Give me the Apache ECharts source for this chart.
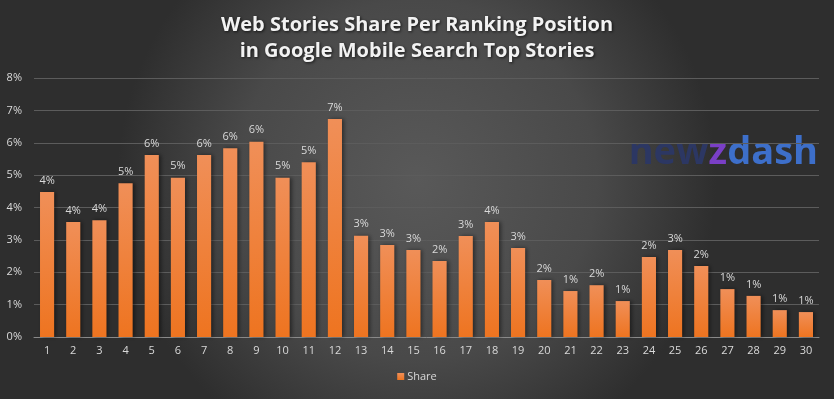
<!DOCTYPE html>
<html>
<head>
<meta charset="utf-8">
<script src="https://cdn.jsdelivr.net/npm/echarts@6/dist/echarts.min.js"></script>
<style>
  html, body { margin: 0; padding: 0; background: #3a3a3a; }
  #chart { width: 834px; height: 399px; }
</style>
</head>
<body>
<div id="chart"></div>
<script>
  // ranking positions 1..30
  var positions = ['1','2','3','4','5','6','7','8','9','10','11','12','13','14','15',
                   '16','17','18','19','20','21','22','23','24','25','26','27','28','29','30'];
  // share in percent
  var shareValues = [4.48, 3.55, 3.61, 4.75, 5.62, 4.92, 5.62, 5.83, 6.03, 4.92, 5.40, 6.73, 3.13, 2.84, 2.69,
                     2.35, 3.12, 3.55, 2.75, 1.76, 1.42, 1.60, 1.11, 2.47, 2.69, 2.19, 1.48, 1.27, 0.83, 0.77];
  var titleLines = ['Web Stories Share Per Ranking Position', 'in Google Mobile Search Top Stories'];

  var chart = echarts.init(document.getElementById('chart'));

  var option = {
    backgroundColor: {
      type: 'radial', x: 0.5, y: 0.45, r: 0.75,
      colorStops: [
        { offset: 0, color: '#595959' },
        { offset: 0.6, color: '#494949' },
        { offset: 1, color: '#2e2e2e' }
      ]
    },
    textStyle: { fontFamily: 'Open Sans' },
    title: {
      text: titleLines.join('\n'),
      left: 'center',
      top: 7,
      textStyle: {
        color: '#f2f2f2',
        fontSize: 20,
        fontWeight: 'bold',
        lineHeight: 26,
        fontFamily: 'Open Sans',
        textShadowColor: 'rgba(0,0,0,0.7)',
        textShadowBlur: 3,
        textShadowOffsetX: 1,
        textShadowOffsetY: 1
      }
    },
    legend: {
      data: ['Share'],
      bottom: 12,
      left: 'center',
      itemWidth: 7,
      itemHeight: 7,
      itemGap: 4,
      icon: 'rect',
      textStyle: { color: '#d9d9d9', fontSize: 11, padding: [0, 0, 0, -2] }
    },
    grid: { left: 34, right: 15, top: 78, bottom: 62, containLabel: false },
    xAxis: {
      type: 'category',
      data: positions,
      axisLine: { lineStyle: { color: '#8a8a8a' } },
      axisTick: { show: false },
      axisLabel: { color: '#d9d9d9', fontSize: 11, margin: 8 }
    },
    yAxis: {
      type: 'value',
      min: 0,
      max: 8,
      interval: 1,
      axisLabel: { color: '#d9d9d9', fontSize: 11, formatter: '{value}%', margin: 12 },
      splitLine: { lineStyle: { color: '#5c5c5c' } },
      axisLine: { show: false },
      axisTick: { show: false }
    },
    series: [{
      name: 'Share',
      type: 'bar',
      barWidth: '54%',
      data: shareValues,
      itemStyle: {
        color: new echarts.graphic.LinearGradient(0, 0, 0, 1, [
          { offset: 0, color: '#f08f58' },
          { offset: 1, color: '#ee7420' }
        ]),
        shadowColor: 'rgba(0,0,0,0.45)',
        shadowBlur: 4,
        shadowOffsetX: 2,
        shadowOffsetY: 0
      },
      label: {
        show: true,
        position: 'top',
        distance: 6,
        color: '#d9d9d9',
        fontSize: 11,
        formatter: function (p) { return Math.round(p.value) + '%'; }
      }
    }],
    graphic: [{
      type: 'text',
      right: 16,
      top: 134,
      style: {
        text: '{a|new}{b|z}{c|dash}',
        rich: {
          a: { fill: '#2c3763', fontSize: 38, fontWeight: 'bold', fontFamily: 'Open Sans' },
          b: { fill: '#7a3fc6', fontSize: 38, fontWeight: 'bold', fontFamily: 'Open Sans' },
          c: { fill: '#3d6fca', fontSize: 38, fontWeight: 'bold', fontFamily: 'Open Sans' }
        }
      }
    }]
  };

  chart.setOption(option);
</script>
</body>
</html>
